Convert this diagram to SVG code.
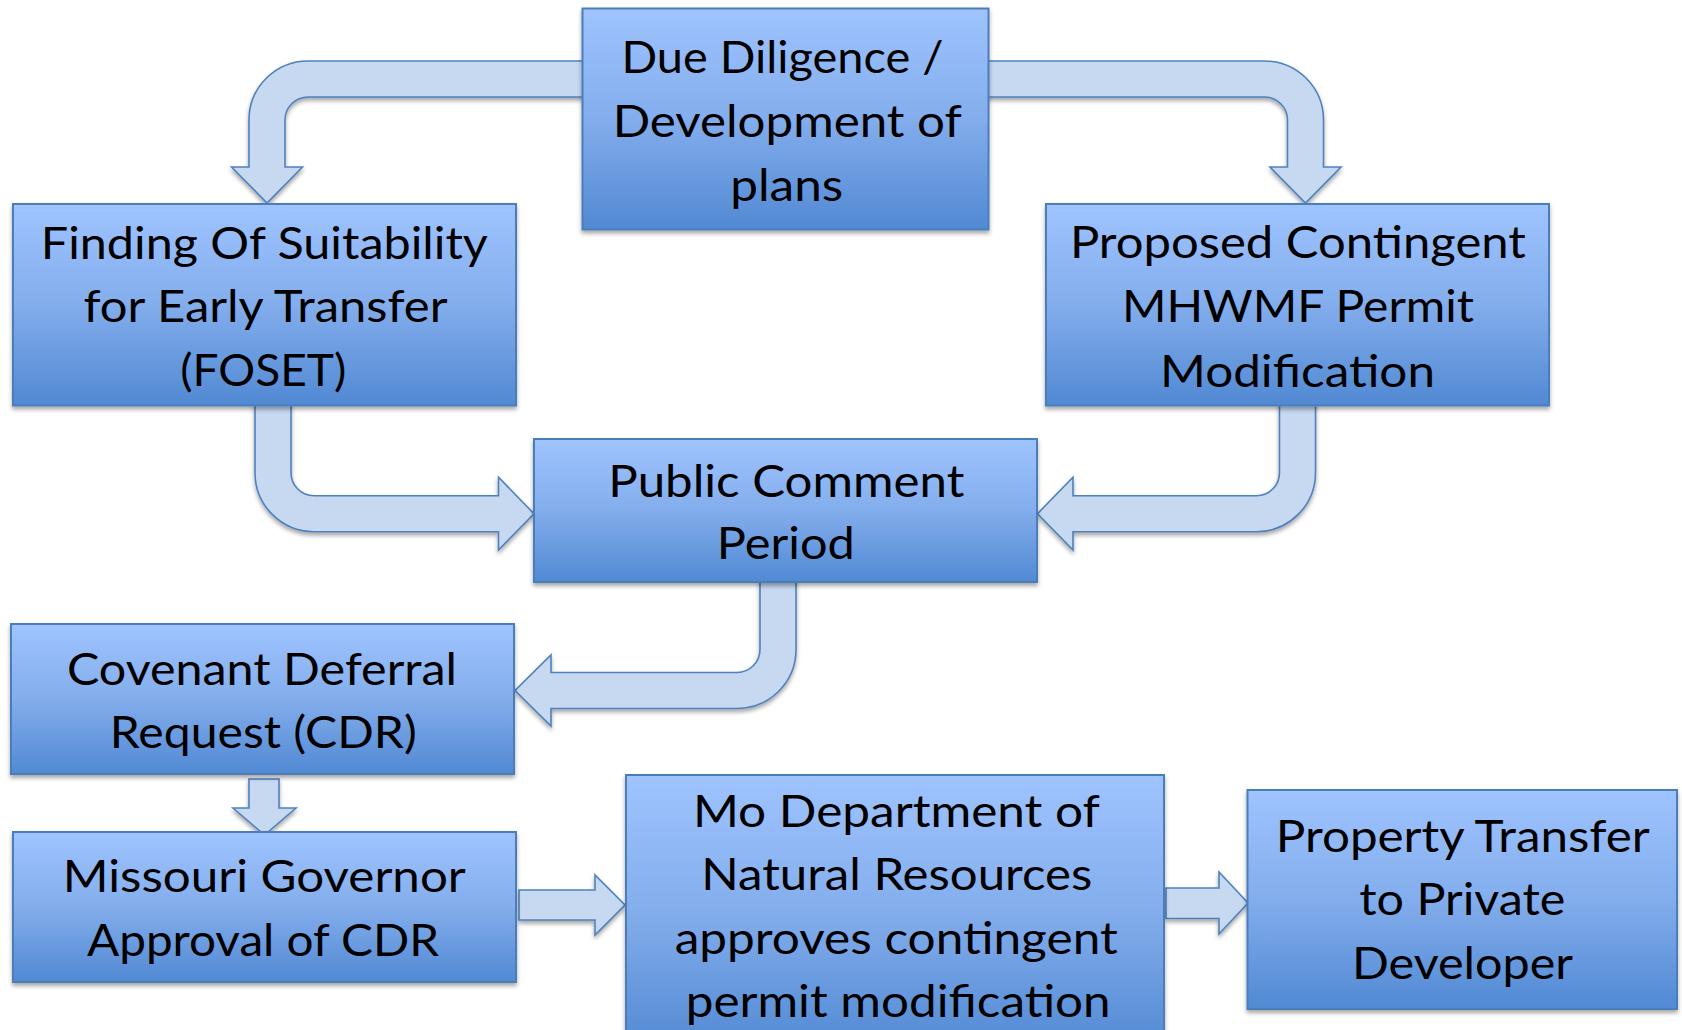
<svg xmlns="http://www.w3.org/2000/svg" width="1682" height="1030" viewBox="0 0 1682 1030">
<defs>
<linearGradient id="boxGrad" x1="0" y1="0" x2="0" y2="1">
<stop offset="0" stop-color="#9FC4FF"/>
<stop offset="0.5" stop-color="#83ADEC"/>
<stop offset="1" stop-color="#5189D3"/>
</linearGradient>
<filter id="shadow" x="-5%" y="-5%" width="110%" height="115%">
<feDropShadow dx="0" dy="3" stdDeviation="2" flood-color="#000" flood-opacity="0.35"/>
</filter>
</defs>
<style>
.box{fill:url(#boxGrad);stroke:#4A7EBB;stroke-width:2;filter:url(#shadow)}
.arrow{fill:#C6D9F1;stroke:#4F81BD;stroke-width:1.6;stroke-linejoin:miter;filter:url(#shadow)}
.lbl{font-family:Lato,"Open Sans","Liberation Sans",sans-serif;font-size:45px;fill:#000;text-anchor:middle}
</style>
<rect width="1682" height="1030" fill="#FFFFFF"/>
<g id="connectors">
<path class="arrow" d="M 590,61 L 308,61 A 59,59 0 0 0 249,120 L 249,167 L 231.5,167 L 267,203 L 302.5,167 L 285,167 L 285,120 A 23,23 0 0 1 308,97 L 590,97 Z"/>
<path class="arrow" d="M 980,61 L 1264.5,61 A 59,59 0 0 1 1323.5,120 L 1323.5,167 L 1341,167 L 1305.5,203 L 1270,167 L 1287.5,167 L 1287.5,120 A 23,23 0 0 0 1264.5,97 L 980,97 Z"/>
<path class="arrow" d="M 255,400 L 255,472.7 A 59,59 0 0 0 314,531.7 L 498.5,531.7 L 498.5,550 L 534,513.7 L 498.5,477.3 L 498.5,495.7 L 314,495.7 A 23,23 0 0 1 291,472.7 L 291,400 Z"/>
<path class="arrow" d="M 1315.5,400 L 1315.5,472.7 A 59,59 0 0 1 1256.5,531.7 L 1073,531.7 L 1073,550 L 1037.5,513.7 L 1073,477.3 L 1073,495.7 L 1256.5,495.7 A 23,23 0 0 0 1279.5,472.7 L 1279.5,400 Z"/>
<path class="arrow" d="M 796,578 L 796,649.5 A 59,59 0 0 1 737,708.5 L 551,708.5 L 551,726 L 515,690.5 L 551,655 L 551,672.5 L 737,672.5 A 23,23 0 0 0 760,649.5 L 760,578 Z"/>
<path class="arrow" d="M 249,779 L 279,779 L 279,808 L 296,808 L 264.5,835 L 233,808 L 249,808 Z"/>
<path class="arrow" d="M 519,890 L 595,890 L 595,875 L 625,905 L 595,935 L 595,920 L 519,920 Z"/>
<path class="arrow" d="M 1166,888 L 1219,888 L 1219,872 L 1248,903 L 1219,934 L 1219,918.5 L 1166,918.5 Z"/>
</g>
<g id="node-due-diligence">
<rect class="box" x="582.5" y="8.5" width="406" height="221"/>
<text class="lbl" x="782.5" y="73.3" textLength="322" lengthAdjust="spacingAndGlyphs">Due Diligence /</text>
<text class="lbl" x="787.2" y="137.3" textLength="349" lengthAdjust="spacingAndGlyphs">Development of</text>
<text class="lbl" x="786.7" y="201.3" textLength="113" lengthAdjust="spacingAndGlyphs">plans</text>
</g>
<g id="node-foset">
<rect class="box" x="13" y="204" width="503" height="201.5"/>
<text class="lbl" x="264.3" y="258.5" textLength="447" lengthAdjust="spacingAndGlyphs">Finding Of Suitability</text>
<text class="lbl" x="265.5" y="322" textLength="364" lengthAdjust="spacingAndGlyphs">for Early Transfer</text>
<text class="lbl" x="263.3" y="386" textLength="166" lengthAdjust="spacingAndGlyphs">(FOSET)</text>
</g>
<g id="node-proposed">
<rect class="box" x="1046" y="204" width="503" height="201.5"/>
<text class="lbl" x="1297.9" y="257.5" textLength="456" lengthAdjust="spacingAndGlyphs">Proposed Contingent</text>
<text class="lbl" x="1298" y="321.7" textLength="352" lengthAdjust="spacingAndGlyphs">MHWMF Permit</text>
<text class="lbl" x="1297.5" y="386.5" textLength="275" lengthAdjust="spacingAndGlyphs">Modification</text>
</g>
<g id="node-public-comment">
<rect class="box" x="534" y="439" width="503" height="143"/>
<text class="lbl" x="786.3" y="496.7" textLength="356" lengthAdjust="spacingAndGlyphs">Public Comment</text>
<text class="lbl" x="785.8" y="559.3" textLength="138" lengthAdjust="spacingAndGlyphs">Period</text>
</g>
<g id="node-cdr">
<rect class="box" x="11" y="624" width="503" height="150"/>
<text class="lbl" x="262" y="684.5" textLength="390" lengthAdjust="spacingAndGlyphs">Covenant Deferral</text>
<text class="lbl" x="263.3" y="748" textLength="307" lengthAdjust="spacingAndGlyphs">Request (CDR)</text>
</g>
<g id="node-governor">
<rect class="box" x="13" y="832" width="503" height="150"/>
<text class="lbl" x="264.3" y="892" textLength="403" lengthAdjust="spacingAndGlyphs">Missouri Governor</text>
<text class="lbl" x="263" y="956" textLength="352" lengthAdjust="spacingAndGlyphs">Approval of CDR</text>
</g>
<g id="node-mo-dnr">
<rect class="box" x="626" y="775" width="538" height="275"/>
<text class="lbl" x="896.4" y="826.5" textLength="407" lengthAdjust="spacingAndGlyphs">Mo Department of</text>
<text class="lbl" x="896.8" y="890" textLength="391" lengthAdjust="spacingAndGlyphs">Natural Resources</text>
<text class="lbl" x="896.2" y="953.5" textLength="443" lengthAdjust="spacingAndGlyphs">approves contingent</text>
<text class="lbl" x="898.2" y="1017" textLength="425" lengthAdjust="spacingAndGlyphs">permit modification</text>
</g>
<g id="node-property-transfer">
<rect class="box" x="1247.5" y="790" width="429.5" height="219"/>
<text class="lbl" x="1462.8" y="851.7" textLength="374" lengthAdjust="spacingAndGlyphs">Property Transfer</text>
<text class="lbl" x="1462.3" y="915" textLength="206" lengthAdjust="spacingAndGlyphs">to Private</text>
<text class="lbl" x="1462.5" y="979.3" textLength="221" lengthAdjust="spacingAndGlyphs">Developer</text>
</g>
</svg>
